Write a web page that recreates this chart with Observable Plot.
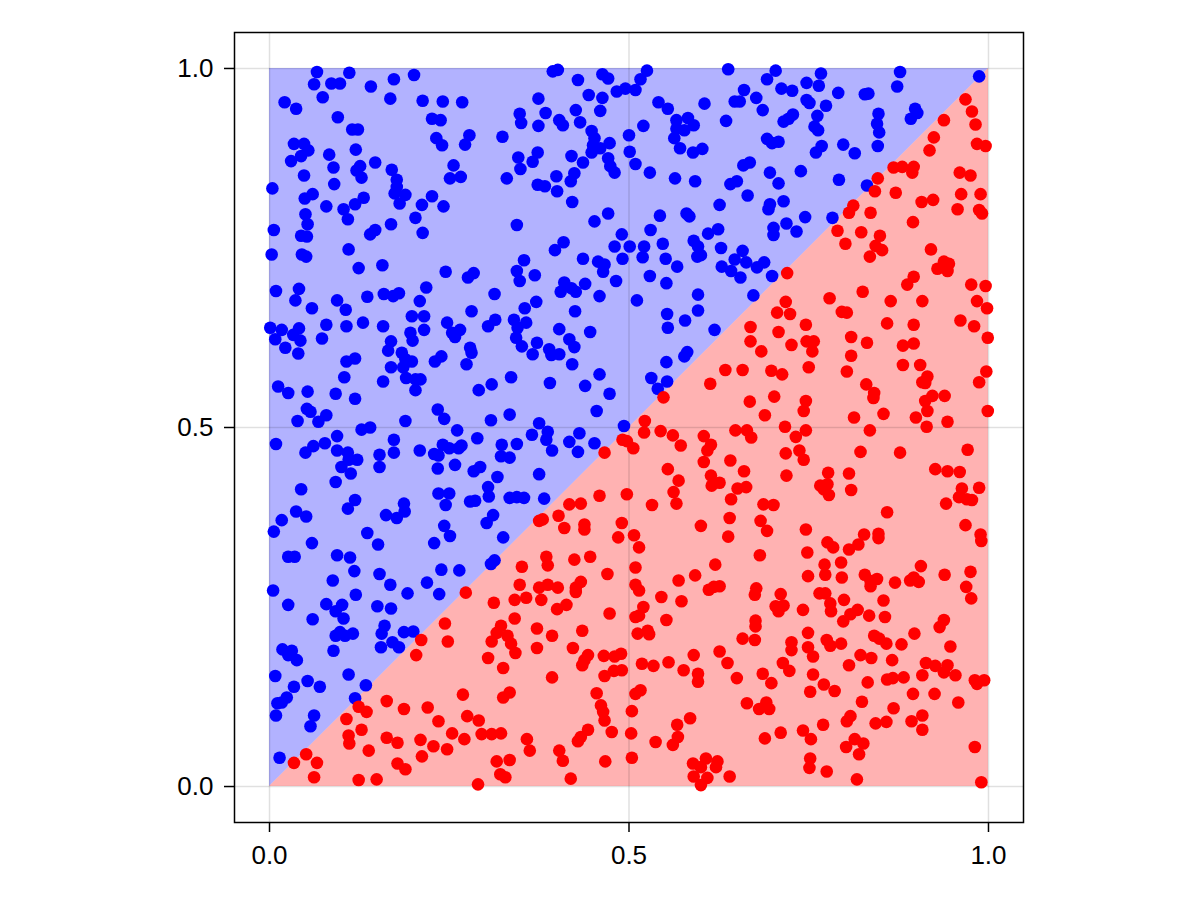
<!DOCTYPE html>
<html>
<head>
<meta charset="utf-8">
<script src="https://cdn.jsdelivr.net/npm/d3@7"></script>
<script src="https://cdn.jsdelivr.net/npm/@observablehq/plot@0.6"></script>
<style>
  html, body { margin: 0; padding: 0; background: white; }
  #chart svg { display: block; }
</style>
</head>
<body>
<div id="chart"></div>
<script>
// Tick values
const tickValues = [0, 0.5, 1];
// Diagonal boundary (x values) for the two shaded triangles
const diagonal = [0, 1];

// Points above the diagonal (blue)
const bluePoints = [
[0.066,0.995],[0.111,0.994],[0.062,0.978],[0.086,0.979],[0.098,0.979],[0.141,0.975],[0.173,0.985],[0.201,0.991],[0.074,0.960],[0.021,0.953],[0.037,0.944],[0.168,0.958],[0.213,0.955],[0.241,0.954],[0.268,0.953],[0.095,0.932],[0.226,0.930],[0.238,0.928],[0.115,0.915],[0.123,0.915],[0.034,0.895],[0.048,0.895],[0.054,0.886],[0.044,0.878],[0.030,0.871],[0.120,0.887],[0.083,0.880],[0.232,0.903],[0.240,0.893],[0.278,0.907],[0.272,0.894],[0.324,0.905],[0.147,0.869],[0.089,0.862],[0.126,0.864],[0.121,0.858],[0.128,0.848],[0.170,0.859],[0.177,0.845],[0.177,0.835],[0.174,0.826],[0.189,0.824],[0.181,0.812],[0.256,0.865],[0.251,0.847],[0.266,0.849],[0.330,0.847],[0.048,0.851],[0.004,0.833],[0.090,0.839],[0.049,0.819],[0.060,0.825],[0.079,0.808],[0.103,0.804],[0.119,0.811],[0.131,0.820],[0.109,0.790],[0.212,0.810],[0.226,0.822],[0.242,0.808],[0.203,0.792],[0.050,0.797],[0.053,0.783],[0.044,0.767],[0.052,0.766],[0.006,0.775],[0.169,0.783],[0.140,0.769],[0.147,0.775],[0.213,0.771],[0.003,0.741],[0.045,0.741],[0.051,0.738],[0.110,0.748],[0.124,0.722],[0.157,0.726],[0.245,0.717],[0.276,0.709],[0.284,0.715],[0.009,0.690],[0.041,0.693],[0.036,0.677],[0.094,0.677],[0.136,0.682],[0.159,0.686],[0.172,0.683],[0.180,0.687],[0.218,0.695],[0.209,0.676],[0.313,0.686],
[0.394,0.996],[0.401,0.998],[0.463,0.992],[0.471,0.986],[0.525,0.997],[0.516,0.985],[0.429,0.984],[0.483,0.968],[0.495,0.972],[0.509,0.970],[0.444,0.963],[0.463,0.959],[0.374,0.958],[0.460,0.941],[0.426,0.942],[0.348,0.937],[0.350,0.924],[0.384,0.938],[0.403,0.928],[0.408,0.921],[0.432,0.925],[0.374,0.920],[0.448,0.913],[0.452,0.903],[0.450,0.893],[0.448,0.883],[0.460,0.889],[0.473,0.896],[0.500,0.907],[0.501,0.884],[0.509,0.867],[0.529,0.855],[0.520,0.920],[0.471,0.875],[0.474,0.864],[0.480,0.855],[0.373,0.883],[0.366,0.870],[0.346,0.876],[0.349,0.860],[0.420,0.878],[0.436,0.869],[0.399,0.850],[0.424,0.854],[0.419,0.843],[0.373,0.838],[0.383,0.836],[0.400,0.829],[0.421,0.814],[0.541,0.953],[0.554,0.944],[0.605,0.951],[0.566,0.928],[0.582,0.931],[0.590,0.921],[0.566,0.916],[0.577,0.914],[0.563,0.903],[0.571,0.889],[0.589,0.883],[0.602,0.888],[0.638,0.999],[0.660,0.970],[0.647,0.954],[0.654,0.954],[0.635,0.927],[0.564,0.847],[0.592,0.843],[0.659,0.865],[0.668,0.869],[0.641,0.839],[0.650,0.843],[0.665,0.823],[0.626,0.810],[0.543,0.795],[0.580,0.798],[0.584,0.794],[0.344,0.782],[0.452,0.787],[0.471,0.798],[0.530,0.775],[0.610,0.770],[0.624,0.776],[0.409,0.758],[0.397,0.747],[0.490,0.769],[0.480,0.752],[0.501,0.752],[0.491,0.735],[0.521,0.752],[0.519,0.737],[0.547,0.756],[0.590,0.760],[0.596,0.752],[0.600,0.740],[0.595,0.738],[0.628,0.750],[0.551,0.735],[0.567,0.724],[0.647,0.734],[0.658,0.746],[0.663,0.730],[0.629,0.724],[0.642,0.718],[0.655,0.709],[0.354,0.733],[0.344,0.718],[0.348,0.704],[0.369,0.712],[0.436,0.735],[0.457,0.731],[0.466,0.727],[0.464,0.717],[0.482,0.704],[0.529,0.711],[0.552,0.701],[0.410,0.702],[0.405,0.689],[0.420,0.694],[0.426,0.689],[0.439,0.700],[0.459,0.683],[0.371,0.675],[0.511,0.677],[0.596,0.685],
[0.704,0.997],[0.692,0.985],[0.767,0.993],[0.764,0.976],[0.747,0.980],[0.712,0.972],[0.727,0.969],[0.677,0.959],[0.686,0.942],[0.747,0.956],[0.751,0.952],[0.774,0.948],[0.791,0.966],[0.828,0.964],[0.833,0.965],[0.877,0.995],[0.873,0.975],[0.987,0.989],[0.715,0.926],[0.722,0.930],[0.728,0.936],[0.762,0.934],[0.758,0.919],[0.763,0.914],[0.847,0.937],[0.845,0.923],[0.848,0.911],[0.898,0.944],[0.901,0.938],[0.892,0.930],[0.692,0.902],[0.699,0.896],[0.708,0.898],[0.768,0.892],[0.760,0.883],[0.798,0.894],[0.814,0.882],[0.846,0.892],[0.739,0.857],[0.696,0.855],[0.708,0.840],[0.792,0.845],[0.831,0.837],[0.696,0.811],[0.694,0.804],[0.715,0.815],[0.745,0.793],[0.783,0.792],[0.719,0.784],[0.701,0.778],[0.701,0.768],[0.733,0.773],[0.688,0.730],[0.678,0.723],[0.699,0.711],[0.673,0.684],
[0.059,0.666],[0.106,0.664],[0.001,0.639],[0.017,0.636],[0.008,0.623],[0.022,0.611],[0.033,0.629],[0.041,0.638],[0.043,0.621],[0.040,0.603],[0.079,0.643],[0.073,0.624],[0.107,0.641],[0.130,0.646],[0.158,0.641],[0.169,0.620],[0.165,0.607],[0.169,0.584],[0.198,0.655],[0.215,0.655],[0.196,0.632],[0.199,0.621],[0.215,0.636],[0.184,0.604],[0.189,0.595],[0.198,0.592],[0.186,0.584],[0.190,0.569],[0.203,0.567],[0.210,0.567],[0.203,0.552],[0.158,0.564],[0.107,0.592],[0.119,0.596],[0.104,0.570],[0.247,0.646],[0.254,0.632],[0.265,0.636],[0.258,0.626],[0.281,0.662],[0.304,0.641],[0.314,0.650],[0.279,0.611],[0.281,0.604],[0.230,0.592],[0.239,0.599],[0.274,0.588],[0.309,0.560],[0.291,0.552],[0.012,0.557],[0.026,0.548],[0.053,0.550],[0.092,0.547],[0.119,0.540],[0.052,0.526],[0.057,0.522],[0.079,0.517],[0.068,0.508],[0.039,0.509],[0.189,0.509],[0.234,0.525],[0.243,0.512],[0.308,0.510],[0.128,0.497],[0.140,0.500],[0.261,0.496],[0.009,0.477],[0.094,0.488],[0.094,0.468],[0.077,0.478],[0.061,0.474],[0.050,0.465],[0.109,0.465],[0.110,0.455],[0.122,0.455],[0.100,0.445],[0.113,0.436],[0.173,0.483],[0.173,0.465],[0.153,0.462],[0.153,0.445],[0.209,0.468],[0.229,0.463],[0.235,0.461],[0.241,0.476],[0.250,0.471],[0.263,0.471],[0.267,0.475],[0.289,0.485],[0.234,0.443],[0.258,0.448],[0.284,0.439],[0.293,0.445],[0.323,0.476],[0.322,0.460],[0.317,0.431],[0.304,0.417],[0.305,0.404],[0.044,0.414],[0.092,0.424],[0.119,0.399],[0.109,0.387],[0.037,0.383],[0.051,0.376],[0.017,0.371],[0.006,0.355],[0.162,0.378],[0.177,0.374],[0.187,0.394],[0.188,0.383],[0.136,0.353],[0.059,0.339],[0.151,0.337],[0.235,0.408],[0.250,0.408],[0.245,0.392],[0.279,0.397],[0.286,0.398],[0.243,0.363],[0.251,0.349],[0.229,0.339],[0.302,0.367],[0.311,0.378],[0.325,0.347],
[0.355,0.666],[0.425,0.662],[0.553,0.658],[0.596,0.663],[0.340,0.650],[0.357,0.646],[0.345,0.639],[0.343,0.625],[0.351,0.613],[0.372,0.618],[0.366,0.602],[0.389,0.609],[0.392,0.601],[0.403,0.602],[0.403,0.637],[0.417,0.623],[0.424,0.612],[0.446,0.633],[0.421,0.588],[0.336,0.570],[0.390,0.562],[0.439,0.558],[0.459,0.574],[0.473,0.547],[0.455,0.523],[0.334,0.518],[0.554,0.639],[0.578,0.649],[0.619,0.636],[0.581,0.605],[0.577,0.599],[0.552,0.591],[0.531,0.569],[0.553,0.564],[0.540,0.554],[0.493,0.502],[0.375,0.506],[0.365,0.490],[0.387,0.494],[0.385,0.483],[0.393,0.468],[0.431,0.492],[0.417,0.480],[0.429,0.466],[0.452,0.478],[0.344,0.477],[0.334,0.458],[0.375,0.435],[0.334,0.402],[0.344,0.403],[0.354,0.402],[0.382,0.401],
[0.026,0.320],[0.035,0.320],[0.094,0.322],[0.112,0.319],[0.118,0.300],[0.088,0.287],[0.153,0.296],[0.168,0.281],[0.120,0.267],[0.005,0.273],[0.026,0.253],[0.079,0.254],[0.092,0.244],[0.101,0.253],[0.103,0.234],[0.060,0.233],[0.150,0.251],[0.169,0.248],[0.192,0.269],[0.219,0.284],[0.239,0.302],[0.264,0.301],[0.236,0.268],[0.308,0.310],[0.313,0.315],[0.160,0.224],[0.156,0.213],[0.155,0.194],[0.092,0.210],[0.098,0.215],[0.105,0.210],[0.116,0.213],[0.089,0.189],[0.171,0.201],[0.180,0.194],[0.187,0.215],[0.200,0.216],[0.018,0.191],[0.031,0.189],[0.026,0.183],[0.038,0.176],[0.008,0.154],[0.034,0.139],[0.053,0.147],[0.070,0.139],[0.110,0.156],[0.134,0.141],[0.119,0.123],[0.024,0.124],[0.017,0.117],[0.011,0.116],[0.009,0.099],[0.062,0.099],[0.057,0.084],[0.014,0.040]
];

// Points below the diagonal (red)
const redPoints = [
[0.968,0.957],[0.977,0.940],[0.982,0.922],[0.938,0.928],[0.924,0.904],[0.918,0.886],[0.984,0.895],[0.996,0.892],[0.868,0.862],[0.880,0.863],[0.896,0.863],[0.894,0.855],[0.846,0.847],[0.842,0.829],[0.871,0.827],[0.960,0.855],[0.975,0.851],[0.962,0.825],[0.989,0.825],[0.907,0.814],[0.923,0.817],[0.957,0.804],[0.987,0.803],[0.991,0.798],[0.812,0.809],[0.806,0.799],[0.836,0.799],[0.895,0.786],[0.790,0.774],[0.823,0.772],[0.801,0.756],[0.849,0.767],[0.843,0.753],[0.852,0.747],[0.835,0.738],[0.920,0.748],[0.938,0.731],[0.945,0.728],[0.929,0.721],[0.943,0.718],[0.720,0.715],[0.896,0.710],[0.887,0.699],[0.825,0.689],[0.976,0.699],[0.996,0.697],[0.718,0.675],[0.779,0.680],[0.864,0.676],[0.908,0.676],[0.984,0.676],
[0.548,0.542],[0.522,0.509],[0.521,0.493],[0.544,0.495],[0.561,0.489],[0.572,0.475],[0.491,0.483],[0.497,0.481],[0.506,0.471],[0.466,0.465],[0.604,0.488],[0.614,0.476],[0.609,0.468],[0.604,0.452],[0.634,0.580],[0.658,0.580],[0.613,0.561],[0.669,0.640],[0.669,0.620],[0.668,0.536],[0.648,0.496],[0.664,0.496],[0.670,0.486],[0.641,0.454],[0.660,0.439],[0.554,0.442],[0.569,0.426],[0.614,0.433],[0.615,0.419],[0.626,0.423],[0.651,0.415],[0.663,0.417],[0.642,0.400],[0.562,0.410],[0.566,0.394],[0.532,0.392],[0.497,0.407],[0.459,0.405],[0.417,0.393],[0.433,0.394],[0.375,0.370],[0.380,0.372],[0.402,0.377],[0.410,0.360],[0.438,0.365],[0.438,0.358],[0.490,0.367],[0.485,0.347],[0.507,0.350],[0.600,0.363],[0.640,0.374],[0.638,0.348],[0.514,0.333],
[0.706,0.660],[0.724,0.658],[0.796,0.661],[0.803,0.660],[0.998,0.666],[0.708,0.633],[0.746,0.643],[0.726,0.615],[0.747,0.620],[0.757,0.620],[0.755,0.606],[0.684,0.606],[0.750,0.584],[0.698,0.579],[0.713,0.574],[0.809,0.626],[0.831,0.618],[0.809,0.600],[0.803,0.578],[0.859,0.645],[0.896,0.643],[0.881,0.614],[0.896,0.617],[0.961,0.649],[0.980,0.641],[0.999,0.625],[0.881,0.587],[0.905,0.587],[0.915,0.571],[0.908,0.563],[0.912,0.562],[0.997,0.578],[0.987,0.563],[0.702,0.543],[0.746,0.537],[0.743,0.523],[0.689,0.517],[0.830,0.560],[0.841,0.548],[0.840,0.541],[0.813,0.514],[0.854,0.519],[0.922,0.544],[0.939,0.544],[0.912,0.537],[0.915,0.523],[0.899,0.514],[0.914,0.501],[0.943,0.508],[0.999,0.523],[0.717,0.501],[0.732,0.487],[0.746,0.496],[0.835,0.496],[0.718,0.464],[0.737,0.468],[0.743,0.455],[0.822,0.466],[0.877,0.465],[0.971,0.469],[0.719,0.433],[0.777,0.437],[0.766,0.419],[0.776,0.421],[0.778,0.406],[0.771,0.414],[0.806,0.436],[0.809,0.413],[0.926,0.442],[0.943,0.439],[0.960,0.438],[0.963,0.415],[0.959,0.403],[0.970,0.400],[0.977,0.399],[0.987,0.416],[0.941,0.394],[0.687,0.393],[0.701,0.392],[0.683,0.370],[0.692,0.356],[0.746,0.358],[0.859,0.382],[0.968,0.364],[0.989,0.351],[0.990,0.342],[0.827,0.351],[0.819,0.337],[0.847,0.352],[0.847,0.346],[0.776,0.340],[0.784,0.333],[0.806,0.330],
[0.273,0.270],[0.312,0.256],[0.244,0.227],[0.248,0.202],[0.211,0.204],[0.204,0.183],[0.322,0.224],[0.316,0.214],[0.309,0.202],[0.304,0.179],[0.325,0.165],[0.269,0.128],[0.325,0.124],[0.163,0.119],[0.187,0.108],[0.220,0.110],[0.124,0.111],[0.135,0.104],[0.107,0.094],[0.128,0.079],[0.110,0.071],[0.111,0.060],[0.163,0.068],[0.178,0.061],[0.235,0.091],[0.275,0.098],[0.291,0.092],[0.254,0.074],[0.271,0.066],[0.210,0.065],[0.228,0.056],[0.247,0.052],[0.212,0.042],[0.295,0.073],[0.309,0.073],[0.322,0.074],[0.138,0.050],[0.051,0.045],[0.034,0.033],[0.066,0.033],[0.062,0.013],[0.124,0.009],[0.149,0.010],[0.178,0.032],[0.189,0.024],[0.316,0.035],[0.321,0.017],[0.328,0.013],[0.290,0.003],
[0.385,0.320],[0.387,0.308],[0.446,0.320],[0.424,0.316],[0.351,0.306],[0.470,0.296],[0.509,0.305],[0.348,0.281],[0.341,0.260],[0.357,0.263],[0.375,0.277],[0.387,0.281],[0.401,0.277],[0.378,0.260],[0.426,0.277],[0.433,0.285],[0.426,0.271],[0.413,0.253],[0.400,0.247],[0.341,0.234],[0.331,0.210],[0.336,0.199],[0.342,0.186],[0.372,0.220],[0.393,0.210],[0.372,0.193],[0.422,0.193],[0.435,0.217],[0.473,0.241],[0.443,0.183],[0.438,0.176],[0.435,0.169],[0.465,0.182],[0.480,0.181],[0.489,0.185],[0.466,0.154],[0.479,0.161],[0.490,0.162],[0.393,0.152],[0.334,0.131],[0.455,0.130],[0.461,0.113],[0.464,0.104],[0.466,0.092],[0.476,0.076],[0.443,0.079],[0.433,0.069],[0.429,0.063],[0.358,0.066],[0.362,0.050],[0.403,0.050],[0.408,0.036],[0.334,0.037],[0.467,0.035],[0.419,0.011],[0.509,0.281],[0.514,0.273],[0.520,0.250],[0.514,0.238],[0.509,0.236],[0.512,0.213],[0.526,0.217],[0.528,0.212],[0.545,0.264],[0.552,0.232],[0.569,0.287],[0.573,0.258],[0.592,0.294],[0.620,0.309],[0.611,0.274],[0.618,0.278],[0.626,0.279],[0.658,0.206],[0.518,0.171],[0.534,0.168],[0.555,0.173],[0.576,0.162],[0.590,0.183],[0.596,0.157],[0.596,0.146],[0.626,0.188],[0.637,0.172],[0.650,0.151],[0.664,0.116],[0.509,0.129],[0.516,0.134],[0.504,0.105],[0.503,0.074],[0.504,0.040],[0.537,0.062],[0.567,0.086],[0.568,0.069],[0.561,0.058],[0.585,0.095],[0.589,0.032],[0.590,0.014],[0.600,0.027],[0.607,0.039],[0.609,0.012],[0.600,0.002],[0.623,0.035],[0.621,0.027],[0.640,0.014],
[0.682,0.322],[0.748,0.326],[0.772,0.309],[0.773,0.295],[0.795,0.312],[0.749,0.293],[0.796,0.291],[0.828,0.295],[0.836,0.286],[0.836,0.279],[0.845,0.289],[0.870,0.284],[0.891,0.287],[0.896,0.291],[0.903,0.285],[0.906,0.307],[0.939,0.295],[0.975,0.299],[0.969,0.278],[0.976,0.262],[0.677,0.276],[0.675,0.267],[0.711,0.268],[0.765,0.269],[0.773,0.269],[0.780,0.255],[0.781,0.244],[0.799,0.260],[0.704,0.251],[0.708,0.244],[0.715,0.252],[0.742,0.246],[0.798,0.230],[0.808,0.240],[0.818,0.246],[0.834,0.238],[0.854,0.259],[0.856,0.236],[0.676,0.231],[0.676,0.223],[0.675,0.204],[0.938,0.232],[0.932,0.222],[0.749,0.214],[0.726,0.201],[0.726,0.190],[0.749,0.194],[0.756,0.181],[0.775,0.204],[0.780,0.196],[0.795,0.199],[0.841,0.210],[0.848,0.206],[0.858,0.199],[0.879,0.198],[0.897,0.213],[0.947,0.195],[0.822,0.183],[0.837,0.179],[0.806,0.169],[0.866,0.176],[0.913,0.172],[0.926,0.168],[0.943,0.169],[0.938,0.159],[0.954,0.155],[0.908,0.155],[0.714,0.172],[0.723,0.161],[0.686,0.157],[0.698,0.144],[0.756,0.156],[0.771,0.142],[0.786,0.133],[0.752,0.132],[0.832,0.145],[0.859,0.149],[0.867,0.151],[0.882,0.152],[0.981,0.148],[0.994,0.148],[0.984,0.143],[0.895,0.129],[0.925,0.129],[0.958,0.117],[0.824,0.118],[0.868,0.109],[0.681,0.108],[0.691,0.117],[0.695,0.108],[0.808,0.098],[0.803,0.091],[0.843,0.088],[0.858,0.090],[0.893,0.091],[0.908,0.099],[0.908,0.079],[0.770,0.086],[0.711,0.075],[0.689,0.067],[0.742,0.078],[0.753,0.066],[0.814,0.066],[0.826,0.060],[0.802,0.055],[0.820,0.045],[0.752,0.039],[0.751,0.026],[0.775,0.021],[0.817,0.010],[0.981,0.055],[0.990,0.006]
];

const fmt = d3.format(".1f");

const chart = Plot.plot({
  width: 1200,
  height: 900,
  marginLeft: 234,
  marginRight: 177,
  marginTop: 32,
  marginBottom: 78,
  style: { fontFamily: "'Liberation Sans', Arial, sans-serif", fontSize: "26px", background: "white", color: "black" },
  x: { domain: [-0.0487, 1.0487] },
  y: { domain: [-0.0501, 1.0501] },
  marks: [
    Plot.areaY(diagonal, { x: d => d, y1: d => d, y2: 1, fill: "blue", fillOpacity: 0.3 }),
    Plot.areaY(diagonal, { x: d => d, y1: 0, y2: d => d, fill: "red", fillOpacity: 0.3 }),
    Plot.gridX(tickValues, { stroke: "black", strokeOpacity: 0.12, strokeWidth: 1.5 }),
    Plot.gridY(tickValues, { stroke: "black", strokeOpacity: 0.12, strokeWidth: 1.5 }),
    Plot.dot(bluePoints, { x: d => d[0], y: d => d[1], r: 6.3, fill: "blue", stroke: null }),
    Plot.dot(redPoints, { x: d => d[0], y: d => d[1], r: 6.3, fill: "red", stroke: null }),
    Plot.frame({ stroke: "black", strokeWidth: 1.5 }),
    Plot.axisX(tickValues, { tickSize: 10, tickPadding: 13, tickFormat: fmt, label: null, strokeWidth: 1.5, fontSize: 26 }),
    Plot.axisY(tickValues, { tickSize: 10, tickPadding: 11, tickFormat: fmt, label: null, strokeWidth: 1.5, fontSize: 26 })
  ]
});
document.getElementById("chart").appendChild(chart);
</script>
</body>
</html>
